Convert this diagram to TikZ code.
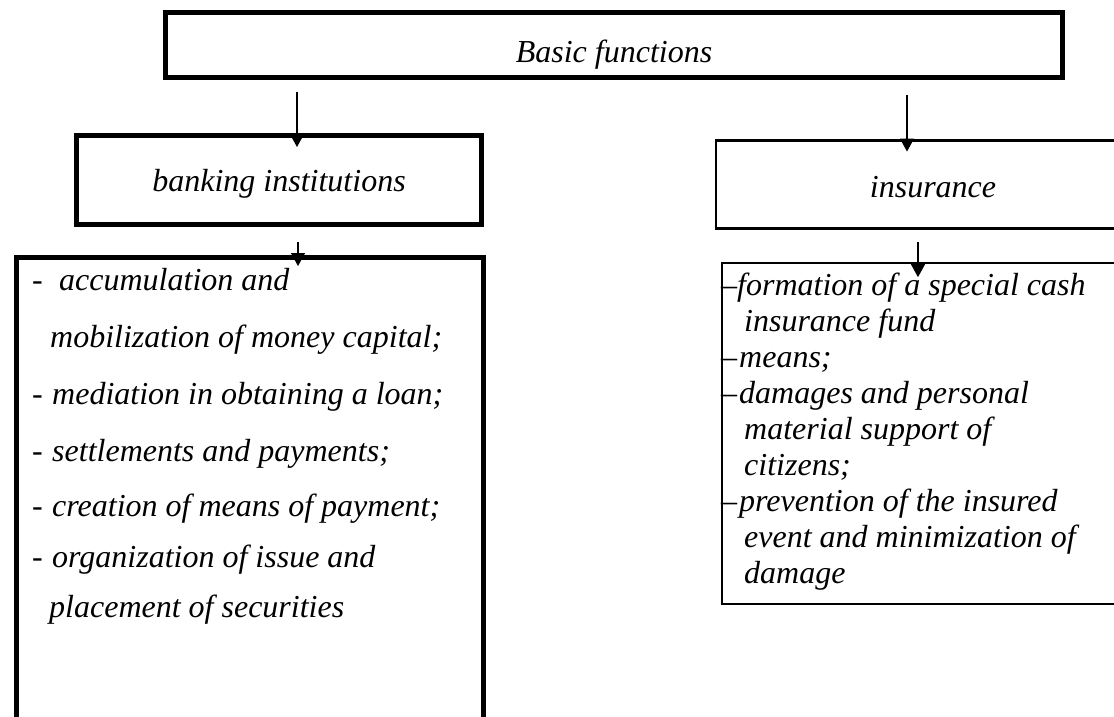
\documentclass[tikz,border=0pt]{standalone}
\usepackage{fontspec}
\setmainfont{Liberation Serif}
\usetikzlibrary{arrows.meta,calc}
\begin{document}
\begin{tikzpicture}[x=1pt,y=-1pt,
  thickbox/.style={draw,line width=5pt,inner sep=0pt},
  thinbox/.style={draw,line width=2.6pt,inner sep=0pt},
  lbl/.style={font=\fontsize{32}{38}\selectfont\itshape},
  item/.style={lbl,inner sep=0pt,anchor=base west},
  arr/.style={line width=1.4pt,-{Triangle[width=14pt,length=13pt]}}]
\useasboundingbox (0,0) rectangle (1114,717);

% boxes
\node[thickbox,lbl,minimum width=897pt,minimum height=65pt,text height=40pt,text depth=4pt] (top) at (614,45) {Basic functions};
\node[thickbox,lbl,minimum width=405pt,minimum height=89pt,text height=26pt,text depth=4pt] (bank) at (279,180) {banking institutions};
\node[thinbox,lbl,minimum width=434pt,minimum height=88.4pt,text height=29pt,text depth=4pt] (ins) at (933,184.5) {insurance};
\node[thickbox,minimum width=467.5pt,minimum height=482.5pt] (blist) at (249.75,498.75) {};
\node[thinbox,line width=2.3pt,minimum width=428pt,minimum height=341pt] (ilist) at (936,433.8) {};

% arrows
\coordinate (s1) at (297,92);
\coordinate (s2) at (907,95);
\coordinate (s3) at (298,242);
\coordinate (s4) at (918,242);
\draw[arr] (s1) -- ($(bank.north -| s1)+(0,14)$);
\draw[arr,line width=1.1pt] (s2) -- ($(ins.north -| s2)+(0,12.5)$);
\draw[arr] (s3) -- ($(blist.north -| s3)+(0,11)$);
\draw[arr,line width=1.1pt] (s4) -- ($(ilist.north -| s4)+(0,15)$);

% banking list
\node[item] (l1) at (32,290) {\makebox[27pt][l]{\upshape -}accumulation and};
\node[item] (l2) at (50,347) {mobilization of money capital;};
\node[item] (l3) at (32,404) {\makebox[20pt][l]{\upshape -}mediation in obtaining a loan;};
\node[item] (l4) at (32,461) {\makebox[20pt][l]{\upshape -}settlements and payments;};
\node[item] (l5) at (32,516) {\makebox[20pt][l]{\upshape -}creation of means of payment;};
\node[item] (l6) at (32,567) {\makebox[20pt][l]{\upshape -}organization of issue and};
\node[item] (l7) at (49,617) {placement of securities};

% insurance list
\node[item] (r1) at (721,295) {\makebox[16pt][l]{\upshape –}formation of a special cash};
\node[item] (r2) at (744,331) {insurance fund};
\node[item] (r3) at (721,367) {\makebox[18pt][l]{\upshape –}means;};
\node[item] (r4) at (721,403) {\makebox[18pt][l]{\upshape –}damages and personal};
\node[item] (r5) at (744,439) {material support of};
\node[item] (r6) at (744,475) {citizens;};
\node[item] (r7) at (721,511) {\makebox[18pt][l]{\upshape –}prevention of the insured};
\node[item] (r8) at (744,547) {event and minimization of};
\node[item] (r9) at (744,583) {damage};
\end{tikzpicture}
\end{document}
